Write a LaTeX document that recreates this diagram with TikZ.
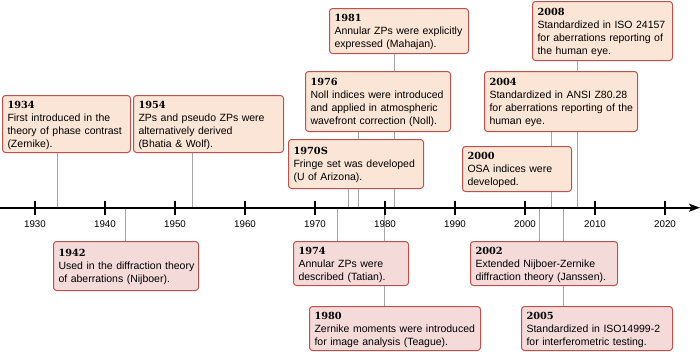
\documentclass[tikz,border=0pt]{standalone}
\usepackage{fontspec}
\setmainfont{Liberation Sans}
\newfontfamily\yearfam{DejaVu Serif}
\usetikzlibrary{arrows.meta,backgrounds}
\definecolor{upfill}{HTML}{FBE5D6}
\definecolor{lowfill}{HTML}{F4DBDA}
\definecolor{boxline}{HTML}{C0504D}
\definecolor{conn}{HTML}{A6A6A6}
\newcommand{\yr}[1]{\rule{0pt}{12.5pt}{\yearfam\bfseries\fontsize{9.8}{13}\selectfont #1}}
\newcommand{\lastpad}{\rule[-5.5pt]{0pt}{5.5pt}}
\begin{document}
\begin{tikzpicture}[x=1pt,y=-1pt,
  evbox/.style={draw=boxline, line width=1pt, rounded corners=3pt, anchor=north west,
    align=left, inner xsep=5pt, inner ysep=0pt, font=\fontsize{10.5}{13}\selectfont},
  upbox/.style={evbox, fill=upfill},
  lowbox/.style={evbox, fill=lowfill},
  connector/.style={draw=conn, line width=0.9pt},
  axisline/.style={line width=1.6pt, -{Stealth[length=11pt,width=8pt,inset=2.5pt]}},
  tickmark/.style={line width=1.8pt},
  ticklabel/.style={font=\fontsize{9.75}{12}\selectfont, inner sep=0pt, anchor=base}
]
\useasboundingbox (0,0) rectangle (700,351);

% axis
\coordinate (axL) at (0,207.7);
\coordinate (axR) at (700,207.7);
\draw[axisline] (axL) -- (axR);
\foreach \yv [count=\i from 0] in {1930,1940,...,2020}{
  \pgfmathsetmacro{\xx}{35+70*\i}
  \draw[tickmark] (\xx,200.5) -- (\xx,214.5);
  \node[ticklabel] (lab\yv) at (\xx,227.7) {\yv};
}

% upper events
\node[upbox, text width=118pt, minimum height=57pt] (n1934) at (2,95)
  {\yr{1934}\\\mbox{First introduced in the}\\\mbox{theory of phase contrast}\\\mbox{(Zernike).}\lastpad};
\node[upbox, text width=140pt, minimum height=57pt] (n1954) at (133,95)
  {\yr{1954}\\\mbox{ZPs and pseudo ZPs were}\\\mbox{alternatively derived}\\\mbox{(Bhatia \& Wolf).}\lastpad};
\node[upbox, text width=129pt, minimum height=45pt] (n1981) at (329,8)
  {\yr{1981}\\\mbox{Annular ZPs were explicitly}\\\mbox{expressed (Mahajan).}\lastpad};
\node[upbox, text width=135pt, minimum height=60pt] (n1976) at (305,71)
  {\yr{1976}\\\mbox{Noll indices were introduced}\\\mbox{and applied in atmospheric}\\\mbox{wavefront correction (Noll).}\lastpad};
\node[upbox, text width=125pt, minimum height=49pt] (n1970) at (288,139)
  {\yr{1970S}\\\mbox{Fringe set was developed}\\\mbox{(U of Arizona).}\lastpad};
\node[upbox, text width=130pt, minimum height=59pt] (n2008) at (532,1)
  {\yr{2008}\\\mbox{Standardized in ISO 24157}\\\mbox{for aberrations reporting of}\\\mbox{the human eye.}\lastpad};
\node[upbox, text width=143pt, minimum height=60pt] (n2004) at (484,71)
  {\yr{2004}\\\mbox{Standardized in ANSI Z80.28}\\\mbox{for aberrations reporting of the}\\\mbox{human eye.}\lastpad};
\node[upbox, text width=99pt, minimum height=45pt] (n2000) at (462,146)
  {\yr{2000}\\\mbox{OSA indices were}\\\mbox{developed.}\lastpad};

% lower events
\node[lowbox, text width=135pt, minimum height=49pt] (n1942) at (53,241)
  {\yr{1942}\\\mbox{Used in the diffraction theory}\\\mbox{of aberrations (Nijboer).}\lastpad};
\node[lowbox, text width=105pt, minimum height=43pt] (n1974) at (293,241)
  {\yr{1974}\\\mbox{Annular ZPs were}\\\mbox{described (Tatian).}\lastpad};
\node[lowbox, text width=161pt, minimum height=44pt] (n1980) at (309,306)
  {\yr{1980}\\\mbox{Zernike moments were introduced}\\\mbox{for image analysis (Teague).}\lastpad};
\node[lowbox, text width=137pt, minimum height=44pt] (n2002) at (470,241)
  {\yr{2002}\\\mbox{Extended Nijboer-Zernike}\\\mbox{diffraction theory (Janssen).}\lastpad};
\node[lowbox, text width=141pt, minimum height=44pt] (n2005) at (521,306)
  {\yr{2005}\\\mbox{Standardized in ISO14999-2}\\\mbox{for interferometric testing.}\lastpad};

% connector anchors on the axis
\coordinate (c1934) at (57.7,207.7);
\coordinate (c1954) at (192,207.7);
\coordinate (c1970) at (348.3,207.7);
\coordinate (c1976) at (358.3,207.7);
\coordinate (c1981) at (394.3,207.7);
\coordinate (c2004) at (551.7,207.7);
\coordinate (c2008) at (577.3,207.7);
\coordinate (c1942) at (125.3,207.7);
\coordinate (c1974) at (337.7,207.7);
\coordinate (c1980) at (384.3,207.7);
\coordinate (c2002) at (539.3,207.7);
\coordinate (c2005) at (563.3,207.7);

\begin{scope}[on background layer]
  \draw[connector] (c1934 |- n1934.south) -- (c1934);
  \draw[connector] (c1954 |- n1954.south) -- (c1954);
  \draw[connector] (c1970 |- n1970.south) -- (c1970);
  \draw[connector] (c1976 |- n1976.south) -- (c1976);
  \draw[connector] (c1981 |- n1981.south) -- (c1981);
  \draw[connector] (c2004 |- n2004.south) -- (c2004);
  \draw[connector] (c2008 |- n2008.south) -- (c2008);
  \draw[connector] (c1942) -- (c1942 |- n1942.north);
  \draw[connector] (c1974) -- (c1974 |- n1974.north);
  \draw[connector] (c1980) -- (c1980 |- n1980.north);
  \draw[connector] (c2002) -- (c2002 |- n2002.north);
  \draw[connector] (c2005) -- (c2005 |- n2005.north);
\end{scope}
\end{tikzpicture}
\end{document}
